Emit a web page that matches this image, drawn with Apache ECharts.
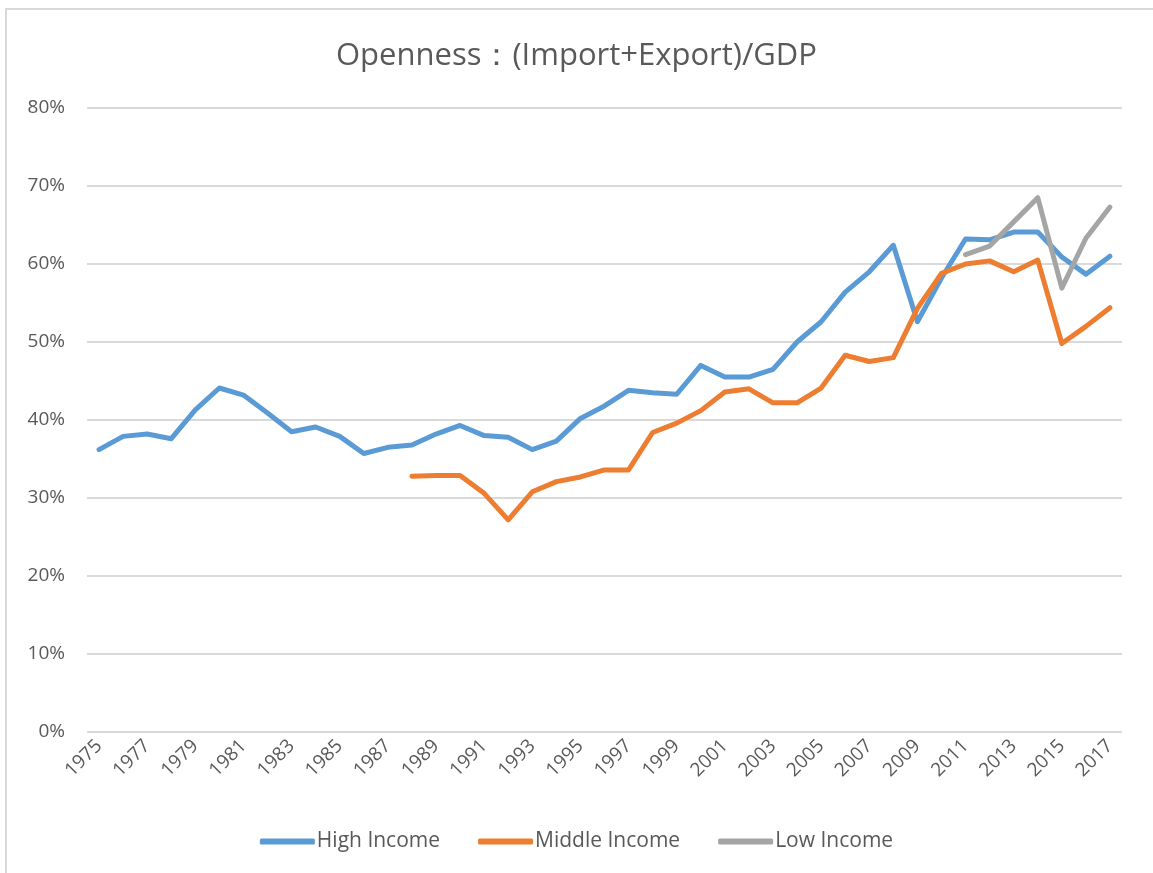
<!DOCTYPE html>
<html>
<head>
<meta charset="utf-8">
<script src="https://cdn.jsdelivr.net/npm/echarts@6/dist/echarts.min.js"></script>
<style>
  html, body { margin: 0; padding: 0; background: #fff; }
  #mainChart { width: 1153px; height: 873px; }
</style>
</head>
<body>
<div id="mainChart"></div>
<script>
// 年份 1975-2017
var years = [];
for (var y = 1975; y <= 2017; y++) years.push(String(y));

// 开放度 (%)
var highIncome = [36.2, 37.9, 38.2, 37.6, 41.3, 44.1, 43.2, 40.9, 38.5, 39.1,
                  37.9, 35.7, 36.5, 36.8, 38.2, 39.3, 38.0, 37.8, 36.2, 37.3,
                  40.2, 41.8, 43.8, 43.5, 43.3, 47.0, 45.5, 45.5, 46.5, 50.0,
                  52.6, 56.4, 59.0, 62.4, 52.6, 58.2, 63.2, 63.1, 64.1, 64.1,
                  60.9, 58.7, 61.0];
var middleIncome = [null, null, null, null, null, null, null, null, null, null,
                    null, null, null, 32.8, 32.9, 32.9, 30.6, 27.2, 30.8, 32.1,
                    32.7, 33.6, 33.6, 38.4, 39.6, 41.2, 43.6, 44.0, 42.2, 42.2,
                    44.1, 48.3, 47.5, 48.0, 54.3, 58.8, 60.0, 60.4, 59.0, 60.5,
                    49.8, 52.0, 54.4];
var lowIncome = [null, null, null, null, null, null, null, null, null, null,
                 null, null, null, null, null, null, null, null, null, null,
                 null, null, null, null, null, null, null, null, null, null,
                 null, null, null, null, null, null, 61.2, 62.3, 65.4, 68.5,
                 56.9, 63.3, 67.3];

var seriesNames = ['High Income', 'Middle Income', 'Low Income'];
var colors = ['#5B9BD5', '#ED7D31', '#A5A5A5'];

var chartDom = document.getElementById('mainChart');
var myChart = echarts.init(chartDom);

function lineSeries(name, data, color) {
    return {
        name: name,
        type: 'line',
        data: data,
        symbol: 'none',
        connectNulls: false,
        lineStyle: { width: 5, color: color, cap: 'round', join: 'round' },
        itemStyle: { color: color }
    };
}

var option = {
    animation: false,
    textStyle: { fontFamily: 'Open Sans' },
    title: {
        text: 'Openness\uFF1A(Import+Export)/GDP',
        left: 'center',
        top: 36,
        textStyle: { fontSize: 31, fontWeight: 'normal', color: '#595959', fontFamily: 'Open Sans' }
    },
    graphic: [{
        type: 'rect',
        shape: { x: 6, y: 9, width: 1160, height: 880 },
        style: { fill: 'none', stroke: '#d9d9d9', lineWidth: 2 },
        silent: true
    }],
    legend: {
        data: seriesNames,
        bottom: 16,
        left: 'center',
        icon: 'roundRect',
        itemWidth: 55,
        itemHeight: 6,
        itemGap: 38,
        textStyle: { fontSize: 21, color: '#595959', padding: [0, 0, 0, -3] }
    },
    grid: { left: 87, right: 31, top: 108, bottom: 141 },
    xAxis: {
        type: 'category',
        data: years,
        boundaryGap: true,
        axisLine: { show: false },
        axisTick: { show: false },
        axisLabel: { interval: 1, rotate: 45, fontSize: 19, color: '#595959', margin: 11 }
    },
    yAxis: {
        type: 'value',
        min: 0,
        max: 80,
        interval: 10,
        axisLine: { show: false },
        axisTick: { show: false },
        axisLabel: { formatter: '{value}%', fontSize: 19, color: '#595959', margin: 22 },
        splitLine: { lineStyle: { color: '#d9d9d9', width: 2 } }
    },
    series: [
        lineSeries(seriesNames[0], highIncome, colors[0]),
        lineSeries(seriesNames[1], middleIncome, colors[1]),
        lineSeries(seriesNames[2], lowIncome, colors[2])
    ]
};

myChart.setOption(option);
</script>
</body>
</html>
